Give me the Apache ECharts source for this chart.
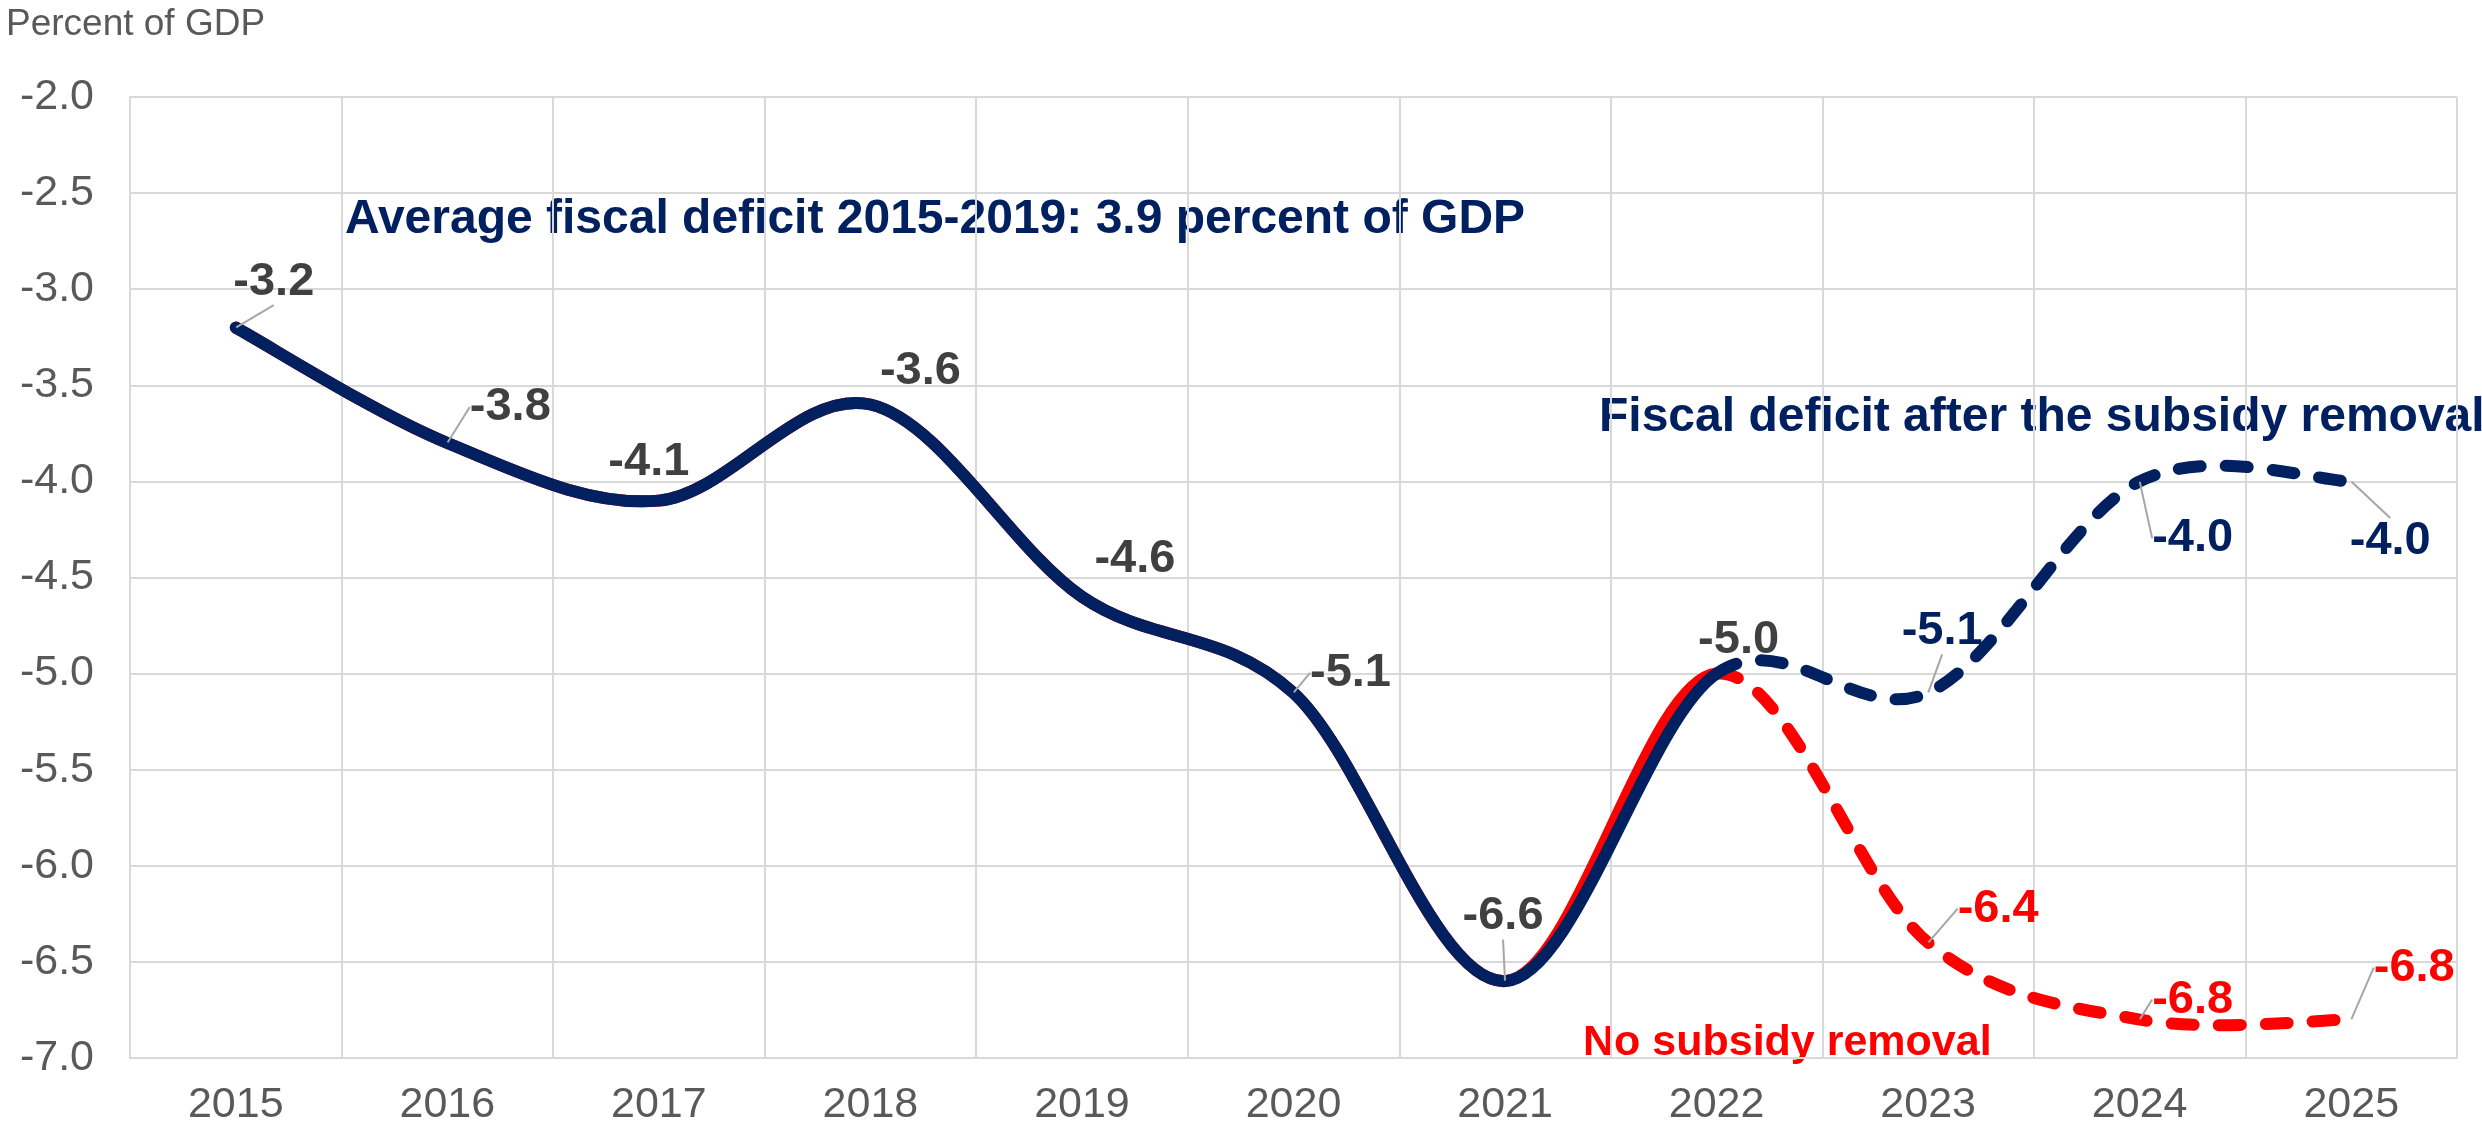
<!DOCTYPE html>
<html>
<head>
<meta charset="utf-8">
<script src="https://cdn.jsdelivr.net/npm/echarts@6/dist/echarts.min.js"></script>
<style>
  html, body { margin: 0; padding: 0; background: #ffffff; }
  #chart { width: 2482px; height: 1135px; }
</style>
</head>
<body>
<div id="chart"></div>
<script>
// Fiscal balance, percent of GDP
const years = ['2015', '2016', '2017', '2018', '2019', '2020', '2021', '2022', '2023', '2024', '2025'];
const withRemoval = [-3.2, -3.8, -4.1, -3.6, -4.6, -5.1, -6.6, -5.0, -5.1, -4.0, -4.0];
// same outturn up to 2022, drawn underneath the navy line
const noRemoval = [-3.2, -3.8, -4.1, -3.6, -4.6, -5.1, -6.6, -5.0, -6.4, -6.8, -6.8];
const lastActual = 7; // index of 2022: solid up to here, dashed projections after
const yMin = -7;
const yMax = -2;
const yStep = 0.5;

const NAVY = '#002060';
const RED = '#FF0000';
const LABEL_GRAY = '#404040';
const AXIS_TEXT = '#595959';
const GRID = '#D9D9D9';
const LEADER = '#A6A6A6';
const FONT = '"Liberation Sans", Arial, Helvetica, sans-serif';
const CLEAR = 'rgba(0,0,0,0)';
const LINE_W = 12;
const DASH = [22, 25];

// label placement relative to its point (px) and whether a leader line is drawn
const histLabelPos = [[38, -46], [63, -36], [-10, -39], [50, -33], [53, -38], [57, -20], [-2, -65], [22, -34]];
const histLeader = [true, true, false, false, false, true, true, false];
const removalLabelPos = { 8: [14, -62], 9: [53, 57], 10: [39, 60] };
const noRemovalLabelPos = { 8: [70, -34], 9: [53, -20], 10: [63, -52] };

// Cubic Bezier through the points, tangent at each point = (next - prev) / 6,
// end points reuse themselves as the missing neighbour.
function bezierPath(pts, from, to) {
  let d = 'M' + pts[from][0] + ' ' + pts[from][1];
  for (let i = from; i < to; i++) {
    const p0 = pts[i - 1] || pts[i];
    const p1 = pts[i];
    const p2 = pts[i + 1];
    const p3 = pts[i + 2] || pts[i + 1];
    const c1x = p1[0] + (p2[0] - p0[0]) / 6;
    const c1y = p1[1] + (p2[1] - p0[1]) / 6;
    const c2x = p2[0] - (p3[0] - p1[0]) / 6;
    const c2y = p2[1] - (p3[1] - p1[1]) / 6;
    d += ' C' + c1x + ' ' + c1y + ' ' + c2x + ' ' + c2y + ' ' + p2[0] + ' ' + p2[1];
  }
  return d;
}

function curveSeries(name, values, color) {
  const items = [];
  values.forEach(function (v, i) { if (v !== null) items.push([i, v]); });
  const first = items[0][0];
  const last = items[items.length - 1][0];
  return {
    name: name,
    type: 'custom',
    coordinateSystem: 'cartesian2d',
    encode: { x: 0, y: 1 },
    data: items,
    silent: true,
    animation: false,
    renderItem: function (params, api) {
      if (params.dataIndex !== 0) return null;
      const pts = [];
      for (let i = first; i <= last; i++) pts[i] = api.coord([i, values[i]]);
      const base = { fill: 'none', stroke: color, lineWidth: LINE_W, lineCap: 'round', lineJoin: 'round' };
      return {
        type: 'group',
        children: [
          { type: 'path', shape: { pathData: bezierPath(pts, first, lastActual) }, style: base },
          {
            type: 'path',
            shape: { pathData: bezierPath(pts, lastActual, last) },
            style: Object.assign({}, base, { lineDash: DASH })
          }
        ]
      };
    }
  };
}

function labelSeries(values, keep, color, posTable, leaderFor) {
  return {
    type: 'scatter',
    symbol: 'circle',
    symbolSize: 1,
    itemStyle: { color: CLEAR, opacity: 1 },
    data: values.map(function (v, i) {
      if (v === null || !keep(i)) return null;
      return { value: v, labelLine: { show: leaderFor(i) } };
    }),
    label: {
      show: true,
      color: color,
      opacity: 1,
      fontFamily: FONT,
      fontWeight: 'bold',
      fontSize: 47,
      formatter: function (p) { return p.value.toFixed(1); }
    },
    labelLine: { show: true, lineStyle: { color: LEADER, width: 2, opacity: 1 } },
    labelLayout: function (params) {
      const d = posTable[params.dataIndex];
      return {
        x: params.rect.x + params.rect.width / 2 + d[0],
        y: params.rect.y + params.rect.height / 2 + d[1],
        align: 'center',
        verticalAlign: 'middle'
      };
    },
    emphasis: { disabled: true },
    silent: true,
    z: 5,
    animation: false
  };
}

const chart = echarts.init(document.getElementById('chart'), null, { renderer: 'canvas' });

chart.setOption({
  backgroundColor: '#ffffff',
  animation: false,
  textStyle: { fontFamily: FONT },
  grid: { left: 130, right: 25, top: 97, bottom: 77, containLabel: false },
  xAxis: {
    type: 'category',
    data: years,
    boundaryGap: true,
    axisLine: { show: true, lineStyle: { color: GRID, width: 2 } },
    axisTick: { show: false },
    axisLabel: { color: AXIS_TEXT, fontSize: 43, fontFamily: FONT, margin: 26, interval: 0 },
    splitLine: { show: true, interval: 0, lineStyle: { color: GRID, width: 2 } }
  },
  yAxis: {
    type: 'value',
    min: yMin,
    max: yMax,
    interval: yStep,
    axisLine: { show: true, lineStyle: { color: GRID, width: 2 } },
    axisTick: { show: false },
    axisLabel: {
      color: AXIS_TEXT, fontSize: 43, fontFamily: FONT, margin: 36,
      formatter: function (v) { return v.toFixed(1); }
    },
    splitLine: { show: true, lineStyle: { color: GRID, width: 2 } }
  },
  series: [
    curveSeries('No subsidy removal', noRemoval, RED),
    curveSeries('Fiscal deficit after the subsidy removal', withRemoval, NAVY),
    labelSeries(withRemoval, function (i) { return i <= lastActual; }, LABEL_GRAY, histLabelPos,
      function (i) { return histLeader[i]; }),
    labelSeries(withRemoval, function (i) { return i > lastActual; }, NAVY, removalLabelPos,
      function () { return true; }),
    labelSeries(noRemoval, function (i) { return i > lastActual; }, RED, noRemovalLabelPos,
      function () { return true; })
  ],
  graphic: [
    {
      type: 'text', left: 6, top: 6, silent: true,
      style: { text: 'Percent of GDP', fill: AXIS_TEXT, font: '37px ' + FONT }
    },
    {
      type: 'text', x: 345, y: 220, silent: true,
      style: {
        text: 'Average fiscal deficit 2015-2019: 3.9 percent of GDP',
        fill: NAVY, font: 'bold 48px ' + FONT, verticalAlign: 'middle'
      }
    },
    {
      type: 'text', x: 1599, y: 418, silent: true,
      style: {
        text: 'Fiscal deficit after the subsidy removal',
        fill: NAVY, font: 'bold 48px ' + FONT, verticalAlign: 'middle'
      }
    },
    {
      type: 'text', x: 1583, y: 1043, silent: true,
      style: {
        text: 'No subsidy removal',
        fill: RED, font: 'bold 43px ' + FONT, verticalAlign: 'middle'
      }
    }
  ]
});
</script>
</body>
</html>
